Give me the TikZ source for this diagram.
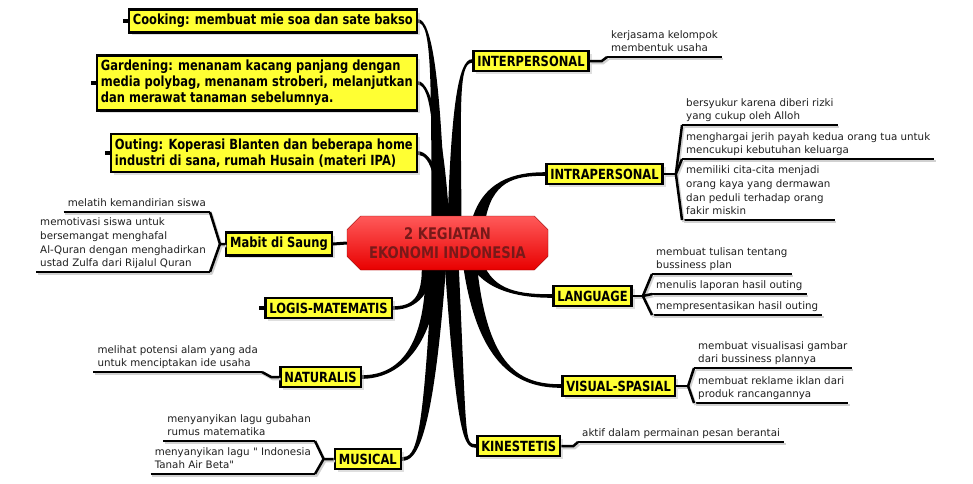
\documentclass[tikz,border=0pt]{standalone}
\usepackage{fontspec}
\setmainfont{DejaVu Sans}
\newfontfamily\topicfont{DejaVu Sans}[FakeStretch=0.82]
\usepackage{tikz}
\usetikzlibrary{calc, positioning, shapes.misc, shadows, backgrounds}
\definecolor{boxyellow}{RGB}{255,255,51}
\definecolor{rootred}{RGB}{232,0,0}
\definecolor{rootlight}{RGB}{255,90,90}
\definecolor{rootline}{RGB}{140,0,0}
\definecolor{roottext}{RGB}{120,25,25}
\definecolor{leaftext}{RGB}{30,30,30}
% tapered branch: start, control near start, control near end, end, half width, end offset
\newcommand{\branch}[6]{%
  \fill ($#1+(-#5,0)$) .. controls ($#2+({-0.7*#5},0)$) and ($#3+(0,#6)$) .. ($#4+(0,#6)$)
    -- ($#4+(0,{-1*(#6)})$) .. controls ($#3+(0,{-1*(#6)})$) and ($#2+({0.7*#5},0)$) .. ($#1+(#5,0)$) -- cycle;}

\begin{document}
\begin{tikzpicture}[x=1pt, y=-1pt,
    topic/.style={draw=black, line width=2.5pt, fill=boxyellow, align=left,
      font=\topicfont\bfseries\fontsize{14}{16}\selectfont, inner xsep=4pt, inner ysep=4.5pt,
      drop shadow={shadow xshift=3pt, shadow yshift=-3pt, fill=black!25}},
    leaf/.style={align=left, text=leaftext, font=\fontsize{10.3}{13.8}\selectfont,
      inner xsep=4pt, inner ysep=2pt, text depth=3pt},
    root/.style={chamfered rectangle, chamfered rectangle xsep=10pt, draw=rootline,
      top color=rootlight, bottom color=rootred, text=roottext, align=center,
      font=\topicfont\bfseries\fontsize{16}{19}\selectfont, minimum width=201pt, minimum height=54pt},
    uline/.style={line width=2.5pt, preaction={draw=black!18, line width=2.5pt,
      transform canvas={shift={(1.5pt,-2pt)}}}},
    stub/.style={line width=4pt}]
    \useasboundingbox (0,0) rectangle (973,483);

    % Central topic
    \node[root] (root) at (447.5,243) {2 KEGIATAN\\EKONOMI INDONESIA};

    % Main topics, left side
    \node[topic, anchor=east] (cook) at (418,21) {Cooking: membuat mie soa dan sate bakso};
    \node[topic, anchor=east] (garden) at (418,83) {Gardening:  menanam kacang panjang dengan\\media polybag, menanam stroberi, melanjutkan\\dan merawat tanaman sebelumnya.};
    \node[topic, anchor=east] (outing) at (418,153) {Outing: Koperasi Blanten dan beberapa home\\industri di sana, rumah Husain (materi IPA)};
    \node[topic, anchor=east] (mabit) at (333,244) {Mabit di Saung};
    \node[topic, anchor=east] (logis) at (393,308) {LOGIS-MATEMATIS};
    \node[topic, anchor=east] (nat) at (362,377) {NATURALIS};
    \node[topic, anchor=east] (mus) at (402,459) {MUSICAL};

    % Main topics, right side
    \node[topic, anchor=west] (inter) at (472,61) {INTERPERSONAL};
    \node[topic, anchor=west] (intra) at (545,174) {INTRAPERSONAL};
    \node[topic, anchor=west] (lang) at (552,296) {LANGUAGE};
    \node[topic, anchor=west] (vis) at (561,386) {VISUAL-SPASIAL};
    \node[topic, anchor=west] (kin) at (476,446) {KINESTETIS};

    % Branches behind the topics
    \begin{scope}[on background layer]
        \branch{(root)+(-9,-18)}{(436,80)}{(cook.east)+(14,0)}{(cook.east)}{7}{1.8}
        \branch{(root)+(-5,-18)}{(440,140)}{(garden.east)+(14,0)}{(garden.east)}{7}{1.8}
        \branch{(root)+(-2,-18)}{(442,185)}{(outing.east)+(14,0)}{(outing.east)}{7}{1.8}
        \branch{(root)+(7,-18)}{(456,110)}{(inter.west)+(-14,0)}{(inter.west)}{7}{-1.8}
        \branch{(root)+(30,-18)}{(486,180)}{(intra.west)+(-30,0)}{(intra.west)}{7}{-1.8}
        \branch{(root)+(-20,18)}{(428,300)}{(logis.east)+(18,0)}{(logis.east)}{6}{-1.8}
        \branch{(root)+(-15,18)}{(432,350)}{(nat.east)+(35,0)}{(nat.east)}{7}{-1.8}
        \branch{(root)+(-8,18)}{(428,445)}{(mus.east)+(14,0)}{(mus.east)}{7}{-1.8}
        \branch{(root)+(4,18)}{(462,440)}{(kin.west)+(-12,0)}{(kin.west)}{7}{1.8}
        \branch{(root)+(22,18)}{(482,370)}{(vis.west)+(-40,0)}{(vis.west)}{7}{1.8}
        \branch{(root)+(28,18)}{(488,292)}{(lang.west)+(-30,0)}{(lang.west)}{7}{1.8}
    \end{scope}
    \draw[line width=3pt] (mabit.east) -- (root.west);

    % collapsed markers
    \foreach \n in {cook,garden,outing,logis}
        \draw[stub] (\n.west) -- ++(-5,0);

    % Sub topics
    \node[leaf, anchor=south west] (linter) at (607,57) {kerjasama kelompok\\membentuk usaha};
    \node[leaf, anchor=south west] (lintra1) at (682,125) {bersyukur karena diberi rizki\\yang cukup oleh Alloh};
    \node[leaf, anchor=south west] (lintra2) at (682,159) {menghargai jerih payah kedua orang tua untuk\\mencukupi kebutuhan keluarga};
    \node[leaf, anchor=south west] (lintra3) at (682,220) {memiliki cita-cita menjadi\\orang kaya yang dermawan\\dan peduli terhadap orang\\fakir miskin};
    \node[leaf, anchor=south west] (llang1) at (652,274) {membuat tulisan tentang\\bussiness plan};
    \node[leaf, anchor=south west] (llang2) at (652,294) {menulis laporan hasil outing};
    \node[leaf, anchor=south west] (llang3) at (652,315) {mempresentasikan hasil outing};
    \node[leaf, anchor=south west] (lvis1) at (694,368) {membuat visualisasi gambar\\dari bussiness plannya};
    \node[leaf, anchor=south west] (lvis2) at (694,403) {membuat reklame iklan dari\\produk rancangannya};
    \node[leaf, anchor=south west] (lkin) at (578,442) {aktif dalam permainan pesan berantai};
    \node[leaf, anchor=south east] (lmabit1) at (210,212) {melatih kemandirian siswa};
    \node[leaf, anchor=south east] (lmabit2) at (210,272) {memotivasi siswa untuk\\bersemangat menghafal\\Al-Quran dengan menghadirkan\\ustad Zulfa dari Rijalul Quran};
    \node[leaf, anchor=south east] (lnat) at (262,372) {melihat potensi alam yang ada\\untuk menciptakan ide usaha};
    \node[leaf, anchor=south east] (lmus1) at (315,441) {menyanyikan lagu gubahan\\rumus matematika};
    \node[leaf, anchor=south east] (lmus2) at (315,474) {menyanyikan lagu \textquotedbl{} Indonesia\\Tanah Air Beta\textquotedbl};

    % underlines
    \foreach \n in {linter,lintra1,lintra2,lintra3,llang1,llang2,llang3,lvis1,lvis2,lkin,lmabit1,lmabit2,lnat,lmus1,lmus2}
        \draw[uline] (\n.south west) -- (\n.south east);

    % connectors to sub topics
    \draw[uline] (inter.east) -- ++(12,0) -- (linter.south west);
    \draw[uline] (intra.east) -- ++(12,0) coordinate (jintra);
    \draw[uline] (jintra) -- (lintra1.south west);
    \draw[uline] (jintra) -- (lintra2.south west);
    \draw[uline] (jintra) -- (lintra3.south west);
    \draw[uline] (lang.east) -- ++(10,0) coordinate (jlang);
    \draw[uline] (jlang) -- (llang1.south west);
    \draw[uline] (jlang) -- (llang2.south west);
    \draw[uline] (jlang) -- (llang3.south west);
    \draw[uline] (vis.east) -- ++(12,0) coordinate (jvis);
    \draw[uline] (jvis) -- (lvis1.south west);
    \draw[uline] (jvis) -- (lvis2.south west);
    \draw[uline] (kin.east) -- ++(12,0) -- (lkin.south west);
    \coordinate (jmabit) at ($(mabit.west)+(-5,0)$);
    \draw[uline] (lmabit1.south east) -- (jmabit) -- (mabit.west);
    \draw[uline] (lmabit2.south east) -- (jmabit);
    \coordinate (jnat) at ($(nat.west)+(-8,0)$);
    \draw[uline] (lnat.south east) -- (jnat) -- (nat.west);
    \coordinate (jmus) at ($(mus.west)+(-10,0)$);
    \draw[uline] (lmus1.south east) -- (jmus) -- (mus.west);
    \draw[uline] (lmus2.south east) -- (jmus);
\end{tikzpicture}
\end{document}
